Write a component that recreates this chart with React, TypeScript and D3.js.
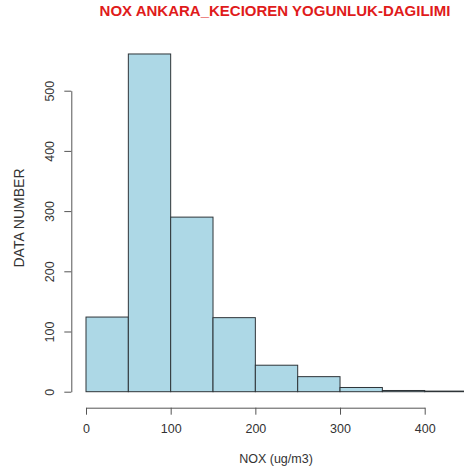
import React, { useEffect, useRef } from 'react';
import * as d3 from 'd3';

// histogram bins (ug/m3) and counts per bin
const binStarts = [0, 50, 100, 150, 200, 250, 300, 350, 400];
const binWidth = 50;
const counts = [124, 561, 290, 123, 44, 25, 7, 2, 1];
const xTicks = [0, 100, 200, 300, 400];
const yTicks = [0, 100, 200, 300, 400, 500];

const title = 'NOX ANKARA_KECIOREN YOGUNLUK-DAGILIMI';
const xLabel = 'NOX (ug/m3)';
const yLabel = 'DATA NUMBER';

const width = 464;
const height = 475;

export default function App() {
    const ref = useRef<SVGSVGElement>(null);

    useEffect(() => {
        const svg = d3.select(ref.current);
        svg.selectAll('*').remove();

        const xScale = d3.scaleLinear().domain([0, 400]).range([86, 424.7]);
        const yScale = d3.scaleLinear().domain([0, 500]).range([391.7, 90.7]);

        const font = 'Liberation Sans, Arial, Helvetica, sans-serif';

        // bars
        svg.append('g')
            .selectAll('rect')
            .data(counts)
            .enter()
            .append('rect')
            .attr('x', (d, i) => xScale(binStarts[i]))
            .attr('width', xScale(binWidth) - xScale(0))
            .attr('y', d => yScale(d))
            .attr('height', d => yScale(0) - yScale(d))
            .attr('fill', '#add8e6')
            .attr('stroke', '#2e3438')
            .attr('stroke-width', 1);

        // x axis
        const xAxis = svg.append('g')
            .attr('transform', 'translate(0,407.7)')
            .call(d3.axisBottom(xScale).tickValues(xTicks).tickSize(7).tickSizeOuter(0).tickPadding(9));
        xAxis.select('.domain').attr('stroke', '#555');
        xAxis.selectAll('.tick line').attr('stroke', '#555');
        xAxis.selectAll('.tick text')
            .attr('font-family', font)
            .attr('font-size', 12.5)
            .attr('fill', '#333');

        // y axis
        const yAxis = svg.append('g')
            .attr('transform', 'translate(71.3,0)')
            .call(d3.axisLeft(yScale).tickValues(yTicks).tickSize(7).tickSizeOuter(0));
        yAxis.select('.domain').attr('stroke', '#555');
        yAxis.selectAll('.tick line').attr('stroke', '#555');
        yAxis.selectAll('.tick text')
            .attr('x', null)
            .attr('dy', null)
            .attr('transform', 'translate(-17.5,0) rotate(-90)')
            .attr('text-anchor', 'middle')
            .attr('font-family', font)
            .attr('font-size', 12.5)
            .attr('fill', '#333');

        // axis titles
        svg.append('text')
            .attr('x', 276)
            .attr('y', 463)
            .attr('text-anchor', 'middle')
            .attr('font-family', font)
            .attr('font-size', 12.5)
            .attr('fill', '#333')
            .text(xLabel);

        svg.append('text')
            .attr('transform', 'translate(24,218) rotate(-90)')
            .attr('text-anchor', 'middle')
            .attr('font-family', font)
            .attr('font-size', 14)
            .attr('fill', '#333')
            .text(yLabel);

        // title
        svg.append('text')
            .attr('x', 275)
            .attr('y', 16)
            .attr('text-anchor', 'middle')
            .attr('font-family', font)
            .attr('font-size', 15)
            .attr('font-weight', 'bold')
            .attr('fill', '#e01b1b')
            .text(title);
    }, []);

    return (
        <svg
            ref={ref}
            width={width}
            height={height}
            style={{ position: 'absolute', left: 0, top: 0, background: '#fff' }}
        />
    );
}
